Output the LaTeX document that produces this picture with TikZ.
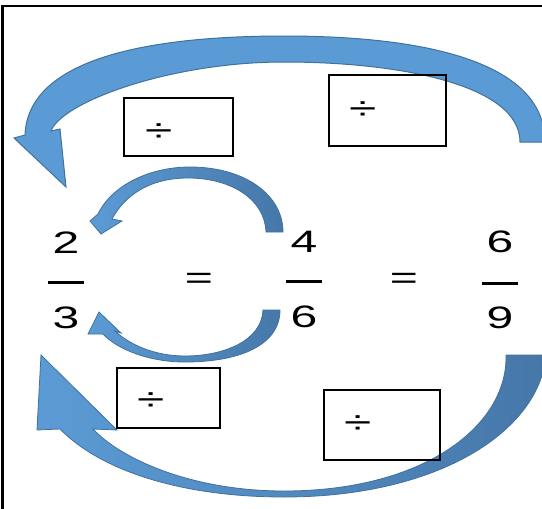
\documentclass[tikz,border=0pt]{standalone}
\usepackage{fontspec}
\setmainfont{Liberation Sans}
\newfontfamily\widefont[FakeStretch=1.55]{Liberation Sans}
\definecolor{arrowblue}{HTML}{5B9BD5}
\definecolor{arrowline}{HTML}{41719C}
\definecolor{arrowdeep}{HTML}{4677A9}
\tikzset{
  flatarrow/.style={fill=arrowblue, draw=arrowline, line width=1pt},
  shadearrow/.style={left color=arrowblue, right color=arrowdeep, draw=arrowline, line width=.8pt},
  divbox/.style={draw, line width=2.5pt, inner sep=0pt},
  divsign/.style={font=\widefont\fontsize{32pt}{32pt}\selectfont, inner sep=0pt},
  digit/.style={font=\widefont\fontsize{31pt}{31pt}\selectfont, inner sep=0pt},
  fracbar/.style={line width=3pt},
}
\begin{document}
\begin{tikzpicture}[x=1pt,y=-1pt]
  \useasboundingbox (0,0) rectangle (542,509);
  \draw[line width=2.5pt](2.5,509)--(2.5,6)--(542,6);
  % big arrows
  \path[flatarrow](545,142) .. controls (545,60) and (420,36) .. (284,36)
    .. controls (150,36) and (28,58) .. (25,135)
    --(14,138)--(66,187)--(60,129)--(51,131)
    .. controls (62,102) and (170,62) .. (284,62)
    .. controls (400,62) and (520,85) .. (520,142)--cycle;
  \path[shadearrow](546,355) .. controls (540,430) and (440,497) .. (284,497)
    .. controls (180,497) and (100,470) .. (60,429)
    --(37,430)--(41,355)--(117,430)--(93,429)
    .. controls (120,458) and (190,491) .. (284,491)
    .. controls (425,491) and (508,425) .. (506,355)--cycle;
  % small arrows
  \path[shadearrow](283,232) .. controls (283,195) and (245,167) .. (190,167)
    .. controls (150,167) and (112,185) .. (98,214)
    --(90,221)--(101,234)--(122,221)--(112,219)
    .. controls (125,195) and (150,178) .. (188,178)
    .. controls (232,178) and (265,200) .. (266,232)--cycle;
  \path[shadearrow](280,310) .. controls (280,345) and (240,362) .. (185,362)
    .. controls (150,362) and (118,350) .. (103,334)
    --(88,334)--(99,312)--(121,333)--(115,331)
    .. controls (130,345) and (155,356) .. (185,356)
    .. controls (225,356) and (262,340) .. (263,310)--cycle;
  % boxes
  \node[divbox, minimum width=109pt, minimum height=58pt](box1) at (178.5,127){};
  \node[divbox, minimum width=117pt, minimum height=71pt](box2) at (387.5,110.5){};
  \node[divbox, minimum width=103pt, minimum height=60pt](box3) at (168.5,398){};
  \node[divbox, minimum width=116pt, minimum height=70pt](box4) at (382,425){};
  \node[divsign](div1) at ([xshift=36pt,yshift=-6pt]box1.west){÷};
  \node[divsign](div2) at ([xshift=35pt]box2.west){÷};
  \node[divsign](div3) at ([xshift=35pt,yshift=-4pt]box3.west){÷};
  \node[divsign](div4) at ([xshift=35pt]box4.west){÷};
  % fractions
  \node[digit](num1) at (66,242.5){2};
  \node[digit](den1) at (66,318){3};
  \node[digit](num2) at (304,241.5){4};
  \node[digit](den2) at (304,316.5){6};
  \node[digit](num3) at (500,241.5){6};
  \node[digit](den3) at (500,317.5){9};
  \coordinate(bar1) at (66,282);
  \coordinate(bar2) at (304,281);
  \coordinate(bar3) at (500,283);
  \foreach \b in {bar1,bar2,bar3}
    \draw[fracbar]([xshift=-18pt]\b)--([xshift=18pt]\b);
  \node[digit](eq1) at (199,281){=};
  \node[digit](eq2) at (404,281){=};
\end{tikzpicture}
\end{document}
